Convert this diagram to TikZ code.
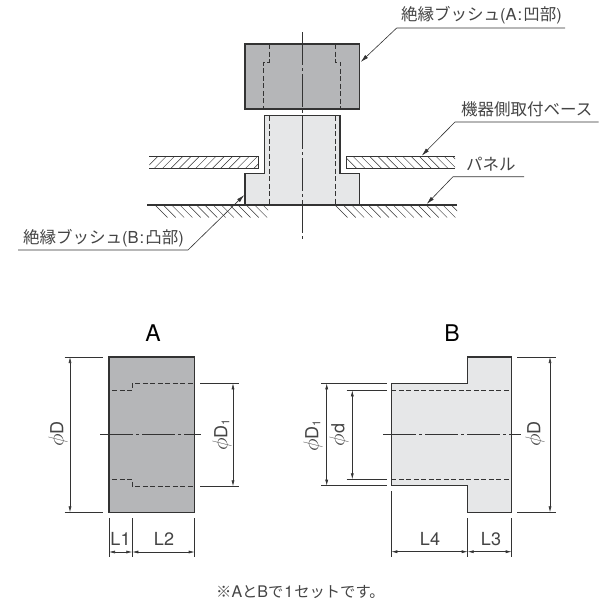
\documentclass[tikz,border=0pt]{standalone}
\usepackage{fontspec}
\setmainfont{Noto Sans CJK JP}
\newfontfamily\hv{TeX Gyre Heros}
\usetikzlibrary{arrows.meta}
\definecolor{ink}{HTML}{333333}
\definecolor{txt}{HTML}{444444}
\definecolor{partA}{HTML}{B5B6B8}
\definecolor{partB}{HTML}{E6E7E8}
\newcommand{\lat}[1]{{\hv #1}}
\newcommand{\sub}[1]{\raisebox{-2pt}{\fontsize{11}{11}\selectfont #1}}
\newcommand{\ph}{\scalebox{1.25}{$\phi$}}
\tikzset{
 x=1pt,y=-1pt,
 outline/.style={draw=ink,line width=1.3pt,line join=miter},
 hidden/.style={draw=ink,line width=0.8pt,dash pattern=on 5pt off 2.5pt},
 axis/.style={draw=ink,line width=0.6pt,dash pattern=on 33pt off 3pt on 3pt off 3pt},
 thin line/.style={draw=ink,line width=0.6pt},
 hatchline/.style={draw=ink,line width=0.45pt},
 dimline/.style={draw=ink,line width=0.6pt,{Latex[length=6pt,width=3pt]}-{Latex[length=6pt,width=3pt]}},
 leader/.style={draw=ink,line width=0.6pt,-{Latex[length=8pt,width=4pt]}},
 label/.style={text=txt,font=\fontsize{16.5}{16.5}\selectfont,inner sep=0pt,anchor=base west},
 dimlabel/.style={text=txt,font=\fontsize{18}{18}\selectfont\hv,inner sep=0pt},
 title/.style={text=black,font=\fontsize{23}{23}\selectfont\hv,inner sep=0pt},
}
\begin{document}
\begin{tikzpicture}
\useasboundingbox (0,0) rectangle (616,614);
\fill[white] (0,0) rectangle (616,614);
% assembly: plates
\begin{scope}
 \clip (149.3,156.7) rectangle (258,168.3);
 \foreach \i in {0,...,14} \draw[hatchline] ({146+8.3*\i},168.3) -- ({157.6+8.3*\i},156.7);
\end{scope}
\begin{scope}
 \clip (346.7,156.7) rectangle (455,168.3);
 \foreach \i in {0,...,14} \draw[hatchline] ({345+8.3*\i},156.7) -- ({356.6+8.3*\i},168.3);
\end{scope}
\draw[thin line] (149.3,156.7) -- (258,156.7) -- (258,168.3) -- (149.3,168.3);
\draw[thin line] (455,156.7) -- (346.7,156.7) -- (346.7,168.3) -- (455,168.3);
% panel hatching
\begin{scope}
 \clip (147,205) rectangle (268,217.5);
 \foreach \i in {0,...,15} \draw[hatchline] ({155+8.3*\i},205) -- ({167.5+8.3*\i},217.5);
\end{scope}
\begin{scope}
 \clip (335,205) rectangle (457,217.5);
 \foreach \i in {0,...,15} \draw[hatchline] ({335+8.3*\i},205) -- ({347.5+8.3*\i},217.5);
\end{scope}
% assembly: bushing B
\path[fill=partB] (264.3,115.7) -- (340,115.7) -- (340,173.7) -- (359.3,173.7) -- (359.3,205) -- (245,205) -- (245,173.7) -- (264.3,173.7) -- cycle;
\draw[outline] (245,205) -- (245,173.7) -- (264.3,173.7) -- (264.3,115.7) -- (340,115.7) -- (340,173.7) -- (359.3,173.7) -- (359.3,205);
\draw[hidden] (269.3,116) -- (269.3,205);
\draw[hidden] (335,116) -- (335,205);
\draw[draw=ink,line width=1.2pt] (147,205) -- (457,205);
% assembly: bushing A
\filldraw[outline,fill=partA] (245,44) rectangle (359.3,109);
\draw[hidden] (269.3,44) -- (269.3,62) -- (263.7,62) -- (263.7,109);
\draw[hidden] (335,44) -- (335,62) -- (340.3,62) -- (340.3,109);
% assembly axis
\draw[axis] (302,32) -- (302,240);
% leaders
\coordinate (a1) at (565,28); \coordinate (a2) at (396.7,28); \coordinate (a3) at (360.7,62);
\coordinate (b1) at (598.7,122); \coordinate (b2) at (455,122); \coordinate (b3) at (421.7,155.7);
\coordinate (c1) at (524,176.7); \coordinate (c2) at (453,176.7); \coordinate (c3) at (426.7,204);
\coordinate (d1) at (18,250); \coordinate (d2) at (188,250); \coordinate (d3) at (244.3,195);
\draw[leader] (a1) -- (a2) -- (a3);
\draw[leader] (b1) -- (b2) -- (b3);
\draw[leader] (c1) -- (c2) -- (c3);
\draw[leader] (d1) -- (d2) -- (d3);
\node[label] (la) at (401,20.5) {絶縁ブッシュ\lat{(A\hspace{1pt}:\hspace{1pt}}凹部\lat{)}};
\node[label] (lb) at (461,115) {機器側取付ベース};
\node[label] (lc) at (466,170) {パネル};
\node[label] (ld) at (23,243) {絶縁ブッシュ\lat{(B\hspace{1pt}:\hspace{1pt}}凸部\lat{)}};
% part A
\node[title] (ta) at (153,333) {A};
\filldraw[outline,fill=partA] (109,357) rectangle (194.7,512.3);
\draw[hidden] (112.3,390.3) -- (132.3,390.3) -- (132.3,383.3) -- (194.7,383.3);
\draw[hidden] (112.3,479.3) -- (132.3,479.3) -- (132.3,486.3) -- (194.7,486.3);
\draw[axis] (100,434.3) -- (200.7,434.3);
\draw[thin line] (64.7,357) -- (103,357) (64.7,512.3) -- (103,512.3);
\draw[dimline] (70,357) -- (70,512.3);
\node[dimlabel,rotate=90] (pd1) at (58,434) {\ph D};
\draw[thin line] (200,383.3) -- (238.7,383.3) (200,486.3) -- (238.7,486.3);
\draw[dimline] (233,383.3) -- (233,486.3);
\node[dimlabel,rotate=90] (pd2) at (222,435) {\ph D\sub{1}};
\draw[thin line] (109,518) -- (109,557) (132.3,518) -- (132.3,557) (194.7,518) -- (194.7,557);
\draw[dimline] (109,552) -- (132.3,552);
\draw[dimline] (132.3,552) -- (194.7,552);
\node[dimlabel] (l1) at (120.5,539) {L1};
\node[dimlabel] (l2) at (164,539) {L2};
% part B
\node[title] (tb) at (452,333) {B};
\path[fill=partB] (391.3,383.3) -- (467.7,383.3) -- (467.7,357) -- (511.7,357) -- (511.7,512.3) -- (467.7,512.3) -- (467.7,485.7) -- (391.3,485.7) -- cycle;
\draw[outline] (391.3,383.3) -- (467.7,383.3) -- (467.7,357) -- (511.7,357) -- (511.7,512.3) -- (467.7,512.3) -- (467.7,485.7) -- (391.3,485.7) -- cycle;
\draw[hidden] (391.3,390.3) -- (511.7,390.3);
\draw[hidden] (391.3,479.3) -- (511.7,479.3);
\draw[axis] (383.3,434.3) -- (520.7,434.3);
\draw[thin line] (321,383.3) -- (387.3,383.3) (321,485.7) -- (387.3,485.7);
\draw[dimline] (326.7,383.3) -- (326.7,485.7);
\node[dimlabel,rotate=90] (pd3) at (313,436) {\ph D\sub{1}};
\draw[thin line] (346.7,390.3) -- (387.3,390.3) (346.7,479.3) -- (387.3,479.3);
\draw[dimline] (352.3,390.3) -- (352.3,479.3);
\node[dimlabel,rotate=90] (pd4) at (339,435) {\ph d};
\draw[thin line] (517.3,357) -- (555.7,357) (517.3,512.3) -- (555.7,512.3);
\draw[dimline] (550,357) -- (550,512.3);
\node[dimlabel,rotate=90] (pd5) at (535,434) {\ph D};
\draw[thin line] (391.3,491) -- (391.3,557) (467.7,518) -- (467.7,557) (511.7,518) -- (511.7,557);
\draw[dimline] (391.3,551.7) -- (467.7,551.7);
\draw[dimline] (467.7,551.7) -- (511.7,551.7);
\node[dimlabel] (l4) at (430,539) {L4};
\node[dimlabel] (l3) at (491,539) {L3};
\node[label,font=\fontsize{15.3}{15.3}\selectfont] (cap) at (216,597) {※\lat{\fontsize{16}{16}\selectfont A}と\lat{\fontsize{16}{16}\selectfont B}で\hspace{1pt}\lat{\fontsize{16}{16}\selectfont 1}\hspace{1pt}セットです。};
\end{tikzpicture}
\end{document}
